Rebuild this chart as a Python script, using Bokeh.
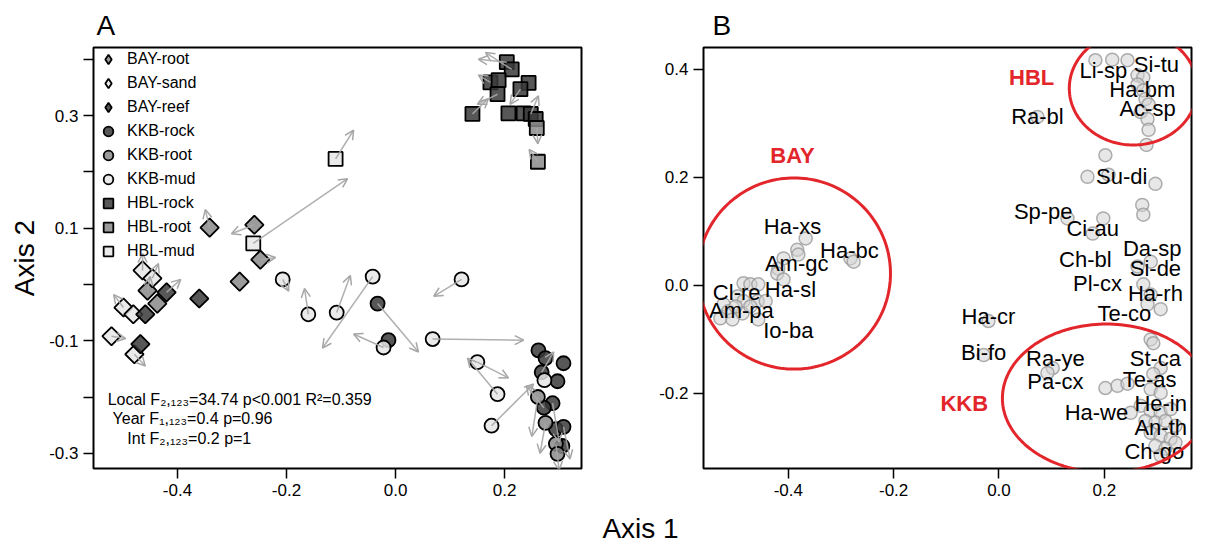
import numpy as np
from bokeh.plotting import figure
from bokeh.models import (ColumnDataSource, FixedTicker, Legend, LegendItem, Label,
                          Arrow, OpenHead, PolyAnnotation, PrintfTickFormatter)
from bokeh.layouts import row, column
from bokeh.embed import file_html
from bokeh.resources import INLINE
from bokeh.core.properties import value

FONT = "Liberation Sans"

# ---------------- Panel A data ----------------
bay_root_x = [-0.341, -0.259, -0.248, -0.286, -0.455, -0.437]
bay_root_y = [0.101, 0.106, 0.044, 0.005, -0.011, -0.034]
bay_sand_x = [-0.464, -0.446, -0.499, -0.481, -0.521, -0.479]
bay_sand_y = [0.025, 0.011, -0.041, -0.053, -0.092, -0.124]
bay_reef_x = [-0.360, -0.420, -0.459, -0.468]
bay_reef_y = [-0.025, -0.014, -0.053, -0.106]
kkb_rock_x = [-0.033, -0.013, 0.262, 0.275, 0.308, 0.268, 0.297, 0.288, 0.272, 0.294, 0.308, 0.306]
kkb_rock_y = [-0.034, -0.099, -0.117, -0.131, -0.140, -0.156, -0.172, -0.211, -0.219, -0.257, -0.253, -0.287]
kkb_root_x = [0.261, 0.275, 0.294, 0.297]
kkb_root_y = [-0.200, -0.246, -0.283, -0.301]
kkb_mud_x = [-0.207, -0.160, -0.108, -0.042, -0.022, 0.068, 0.121, 0.150, 0.187, 0.176, 0.273]
kkb_mud_y = [0.009, -0.053, -0.050, 0.014, -0.112, -0.097, 0.009, -0.138, -0.195, -0.251, -0.170]
hbl_rock_x = [0.204, 0.213, 0.174, 0.189, 0.187, 0.244, 0.229, 0.141, 0.207, 0.235, 0.248, 0.257]
hbl_rock_y = [0.395, 0.382, 0.359, 0.363, 0.338, 0.358, 0.347, 0.303, 0.304, 0.304, 0.303, 0.294]
hbl_root_x = [0.259, 0.261]
hbl_root_y = [0.278, 0.218]
hbl_mud_x = [-0.110, -0.261]
hbl_mud_y = [0.223, 0.073]

# arrows (start -> end) showing change between years
arrow_x0 = [-0.261, -0.110, -0.341, -0.259, -0.248, -0.160, -0.108, -0.042, -0.033, -0.022,
            0.068, 0.121, 0.150, 0.176, 0.187, -0.207,
            -0.464, -0.446, -0.420, -0.499, -0.521, -0.479, -0.455,
            0.204, 0.213, 0.174, 0.187, 0.141, 0.229, 0.259, 0.261, 0.248,
            0.261, 0.288, 0.275, 0.308, 0.294, 0.272, 0.268]
arrow_y0 = [0.073, 0.223, 0.101, 0.106, 0.044, -0.053, -0.050, 0.014, -0.034, -0.112,
            -0.097, 0.009, -0.138, -0.251, -0.195, 0.009,
            0.025, 0.011, -0.014, -0.041, -0.092, -0.124, -0.011,
            0.395, 0.382, 0.359, 0.338, 0.303, 0.347, 0.278, 0.218, 0.303,
            -0.200, -0.211, -0.246, -0.253, -0.283, -0.219, -0.156]
arrow_x1 = [-0.088, -0.077, -0.349, -0.301, -0.220, -0.167, -0.083, -0.134, 0.042, -0.077,
            0.235, 0.070, 0.207, 0.253, 0.132, -0.196,
            -0.464, -0.435, -0.394, -0.517, -0.495, -0.459, -0.450,
            0.152, 0.165, 0.152, 0.150, 0.170, 0.210, 0.261, 0.245, 0.262,
            0.250, 0.300, 0.265, 0.320, 0.300, 0.240, 0.290]
arrow_y1 = [0.188, 0.274, 0.133, 0.090, 0.048, -0.007, 0.016, -0.113, -0.120, -0.088,
            -0.099, -0.021, -0.166, -0.177, -0.131, -0.012,
            0.055, 0.037, 0.009, -0.018, -0.096, -0.145, 0.014,
            0.400, 0.412, 0.372, 0.320, 0.330, 0.320, 0.250, 0.240, 0.335,
            -0.270, -0.280, -0.300, -0.310, -0.330, -0.180, -0.120]

stats_lines = ["Local F\u2082,\u2081\u2082\u2083=34.74 p<0.001 R\u00b2=0.359",
               "Year F\u2081,\u2081\u2082\u2083=0.4 p=0.96",
               "Int F\u2082,\u2081\u2082\u2083=0.2 p=1"]
stats_x = [-0.528, -0.519, -0.492]
stats_y = [-0.205, -0.239, -0.274]

# ---------------- Panel B data ----------------
site_x = [0.183, 0.215, 0.244, 0.263, 0.274, 0.263, 0.274, 0.278, 0.284, 0.269, 0.282, 0.284, 0.280,
          0.202, 0.168, 0.208, 0.297, 0.272, 0.274, 0.130, 0.198, 0.178, 0.288, 0.263, 0.073,
          0.274, 0.288, 0.282, 0.307, -0.020, -0.029, 0.288, 0.293, 0.307, 0.293, 0.102, 0.092,
          0.202, 0.225, 0.244, 0.288, 0.307,
          0.269, 0.288, 0.307, 0.326, 0.278, 0.297, 0.316, 0.335, 0.288, 0.307, 0.326, 0.297,
          0.316, 0.335, 0.307, 0.250,
          -0.367, -0.383, -0.381, -0.282, -0.276, -0.409, -0.419, -0.421, -0.409, -0.485, -0.472,
          -0.457, -0.496, -0.485, -0.458, -0.443, -0.523, -0.514, -0.529, -0.506, -0.457, -0.487,
          -0.472, -0.500]
site_y = [0.417, 0.418, 0.417, 0.389, 0.385, 0.372, 0.361, 0.345, 0.335, 0.321, 0.308, 0.288, 0.260,
          0.241, 0.201, 0.205, 0.188, 0.149, 0.131, 0.124, 0.124, 0.096, 0.044, 0.035, 0.312,
          0.002, -0.017, -0.035, -0.044, -0.066, -0.129, -0.100, -0.107, -0.153, -0.164, -0.153, -0.162,
          -0.190, -0.186, -0.182, -0.192, -0.199,
          -0.223, -0.232, -0.236, -0.229, -0.251, -0.254, -0.251, -0.260, -0.273, -0.278, -0.284, -0.297,
          -0.302, -0.291, -0.315, -0.236,
          0.087, 0.066, 0.057, 0.050, 0.044, 0.050, 0.031, 0.022, 0.011, 0.004, 0.002,
          0.002, -0.020, -0.029, -0.029, -0.029, -0.035, -0.048, -0.061, -0.063, -0.063, -0.052,
          -0.039, -0.039]

species = ["Li-sp", "Si-tu", "Ha-bm", "Ac-sp", "Ra-bl", "Su-di", "Sp-pe", "Ci-au", "Da-sp", "Ch-bl",
           "Si-de", "Pl-cx", "Ha-rh", "Te-co", "Ha-cr", "Bi-fo", "Ra-ye", "St-ca", "Pa-cx", "Te-as",
           "He-in", "Ha-we", "An-th", "Ch-go", "Ha-xs", "Ha-bc", "Am-gc", "Ha-sl", "Cl-re", "Am-pa", "Io-ba"]
species_x = [0.198, 0.299, 0.272, 0.282, 0.073, 0.233, 0.084, 0.178, 0.291, 0.164,
             0.297, 0.187, 0.297, 0.238, -0.020, -0.029, 0.107, 0.297, 0.107, 0.286,
             0.307, 0.185, 0.307, 0.295, -0.392, -0.284, -0.384, -0.396, -0.498, -0.489, -0.400]
species_y = [0.398, 0.409, 0.363, 0.328, 0.313, 0.201, 0.136, 0.105, 0.068, 0.048,
             0.031, 0.004, -0.015, -0.052, -0.057, -0.125, -0.135, -0.135, -0.177, -0.175,
             -0.218, -0.236, -0.264, -0.308, 0.109, 0.065, 0.041, -0.007, -0.013, -0.046, -0.083]

locality = ["HBL", "BAY", "KKB"]
locality_label_x = [0.062, -0.392, -0.066]
locality_label_y = [0.385, 0.241, -0.219]
ellipse_cx = [0.255, -0.389, 0.204]
ellipse_cy = [0.365, 0.022, -0.209]
ellipse_w = [0.243, 0.366, 0.395]
ellipse_h = [0.210, 0.354, 0.275]

RED = "#e3262b"
DARK, GRAY, LIGHT = "#3a3a3a", "#8a8a8a", "#e6e6e6"

TOP, BOTTOM, PH = 45, 37, 505   # panel borders / height


def style_axes(p):
    p.grid.visible = False
    p.outline_line_color = "black"
    p.outline_line_width = 2
    p.outline_line_alpha = 1
    for ax in p.axis:
        ax.axis_line_color = None
        ax.major_tick_out = 10
        ax.major_tick_in = 0
        ax.major_tick_line_width = 1.5
        ax.major_tick_line_color = "black"
        ax.minor_tick_out = 10
        ax.minor_tick_in = 0
        ax.minor_tick_line_width = 1.5
        ax.minor_tick_line_color = "black"
        ax.major_label_text_font = FONT
        ax.major_label_text_font_size = "17px"
        ax.major_label_text_color = "black"
        ax.major_label_standoff = 5
        ax.formatter = PrintfTickFormatter(format="%.1f")


def style_title(p, txt, offset):
    p.title.text = txt
    p.title.align = "left"
    p.title.offset = offset
    p.title.standoff = 14
    p.title.text_font = FONT
    p.title.text_font_size = "28px"
    p.title.text_font_style = "normal"
    p.title.text_color = "black"


# ---------------- Panel A ----------------
pA = figure(width=610, height=PH, x_range=(-0.554, 0.341), y_range=(-0.327, 0.421),
            output_backend="svg", toolbar_location=None,
            min_border_left=93, min_border_right=29, min_border_top=TOP, min_border_bottom=BOTTOM)
style_axes(pA)
style_title(pA, "A", 3)
pA.xaxis.ticker = FixedTicker(ticks=[-0.4, -0.2, 0.0, 0.2], minor_ticks=[])
pA.yaxis.ticker = FixedTicker(ticks=[-0.3, -0.1, 0.1, 0.3], minor_ticks=[-0.2, 0.0, 0.2, 0.4])
pA.yaxis.axis_label = "Axis 2"
pA.yaxis.axis_label_text_font = FONT
pA.yaxis.axis_label_text_font_size = "28px"
pA.yaxis.axis_label_text_font_style = "normal"
pA.yaxis.axis_label_text_color = "black"
pA.yaxis.axis_label_standoff = 6

groups = [
    ("BAY-root", bay_root_x, bay_root_y, "square", GRAY, np.pi / 4, 13),
    ("BAY-sand", bay_sand_x, bay_sand_y, "square", LIGHT, np.pi / 4, 13),
    ("BAY-reef", bay_reef_x, bay_reef_y, "square", DARK, np.pi / 4, 13),
    ("KKB-rock", kkb_rock_x, kkb_rock_y, "circle", DARK, 0, 14),
    ("KKB-root", kkb_root_x, kkb_root_y, "circle", GRAY, 0, 14),
    ("KKB-mud", kkb_mud_x, kkb_mud_y, "circle", LIGHT, 0, 14),
    ("HBL-rock", hbl_rock_x, hbl_rock_y, "square", DARK, 0, 14),
    ("HBL-root", hbl_root_x, hbl_root_y, "square", GRAY, 0, 14),
    ("HBL-mud", hbl_mud_x, hbl_mud_y, "square", LIGHT, 0, 14),
]
items = []
for name, xs, ys, mk, col, ang, sz in groups:
    r = pA.scatter(xs, ys, marker=mk, size=sz, angle=ang, fill_color=col, fill_alpha=0.85,
                   line_color="black", line_width=1.8)
    if ang:
        # legend-only proxy (no visible point): diamond symbol, since legends ignore rotation
        r = pA.scatter([np.nan], [np.nan], marker="diamond", size=sz, fill_color=col,
                       fill_alpha=0.85, line_color="black", line_width=1.8)
    items.append(LegendItem(label=name, renderers=[r]))

arrow_src = ColumnDataSource(dict(x0=arrow_x0, y0=arrow_y0, x1=arrow_x1, y1=arrow_y1))
pA.add_layout(Arrow(end=OpenHead(size=9, line_color="#a6a6a6", line_width=1.5),
                    x_start="x0", y_start="y0", x_end="x1", y_end="y1", source=arrow_src,
                    line_color="#a6a6a6", line_width=1.5, line_alpha=0.9))

legend = Legend(items=items, location="top_left", margin=0, padding=0, spacing=-4,
                glyph_height=24, glyph_width=30, label_height=24, label_standoff=4,
                label_text_font=FONT, label_text_font_size="16px", label_text_color="black",
                border_line_color=None, background_fill_alpha=0)
pA.add_layout(legend)

for t, x, y in zip(stats_lines, stats_x, stats_y):
    pA.add_layout(Label(x=x, y=y, text=t, text_font=FONT, text_font_size="16px",
                        text_align="left", text_baseline="middle", text_color="black"))

# ---------------- Panel B ----------------
pB = figure(width=609, height=PH, x_range=(-0.561, 0.3655), y_range=(-0.339, 0.4405),
            output_backend="svg", toolbar_location=None,
            min_border_left=93, min_border_right=28, min_border_top=TOP, min_border_bottom=BOTTOM)
style_axes(pB)
style_title(pB, "B", 9)
pB.xaxis.ticker = FixedTicker(ticks=[-0.4, -0.2, 0.0, 0.2], minor_ticks=[])
pB.yaxis.ticker = FixedTicker(ticks=[-0.2, 0.0, 0.2, 0.4], minor_ticks=[])

pB.scatter(site_x, site_y, marker="circle", size=13, fill_color="#d4d4d4", fill_alpha=0.55,
           line_color="#9a9a9a", line_alpha=0.8, line_width=1.5)

pB.text(species_x, species_y, text=species, text_font=value(FONT), text_font_size="22px",
        text_align="center", text_baseline="middle", text_color="black")

pB.text(locality_label_x, locality_label_y, text=locality, text_font=value(FONT),
        text_font_size="22px", text_font_style="bold", text_align="center",
        text_baseline="middle", text_color=RED)

theta = np.linspace(0, 2 * np.pi, 181)
for cx, cy, w, h in zip(ellipse_cx, ellipse_cy, ellipse_w, ellipse_h):
    xs = list(cx + 0.5 * w * np.cos(theta))
    ys = list(cy + 0.5 * h * np.sin(theta))
    pB.add_layout(PolyAnnotation(xs=xs, ys=ys, xs_units="data", ys_units="data",
                                 fill_color=None, fill_alpha=0, line_color=RED,
                                 line_alpha=1, line_width=3))

# ---------------- shared x-axis title ----------------
pX = figure(width=1219, height=546 - PH, x_range=(0, 1219), y_range=(0, 546 - PH),
            output_backend="svg", toolbar_location=None, x_axis_type=None, y_axis_type=None,
            min_border=0)
pX.grid.visible = False
pX.outline_line_color = None
pX.add_layout(Label(x=640, y=546 - PH - 23, text="Axis 1", text_font=FONT, text_font_size="28px",
                    text_align="center", text_baseline="middle", text_color="black"))

layout = column(row(pA, pB, spacing=0), pX, spacing=0)
open("out.html", "w").write(file_html(layout, INLINE))
